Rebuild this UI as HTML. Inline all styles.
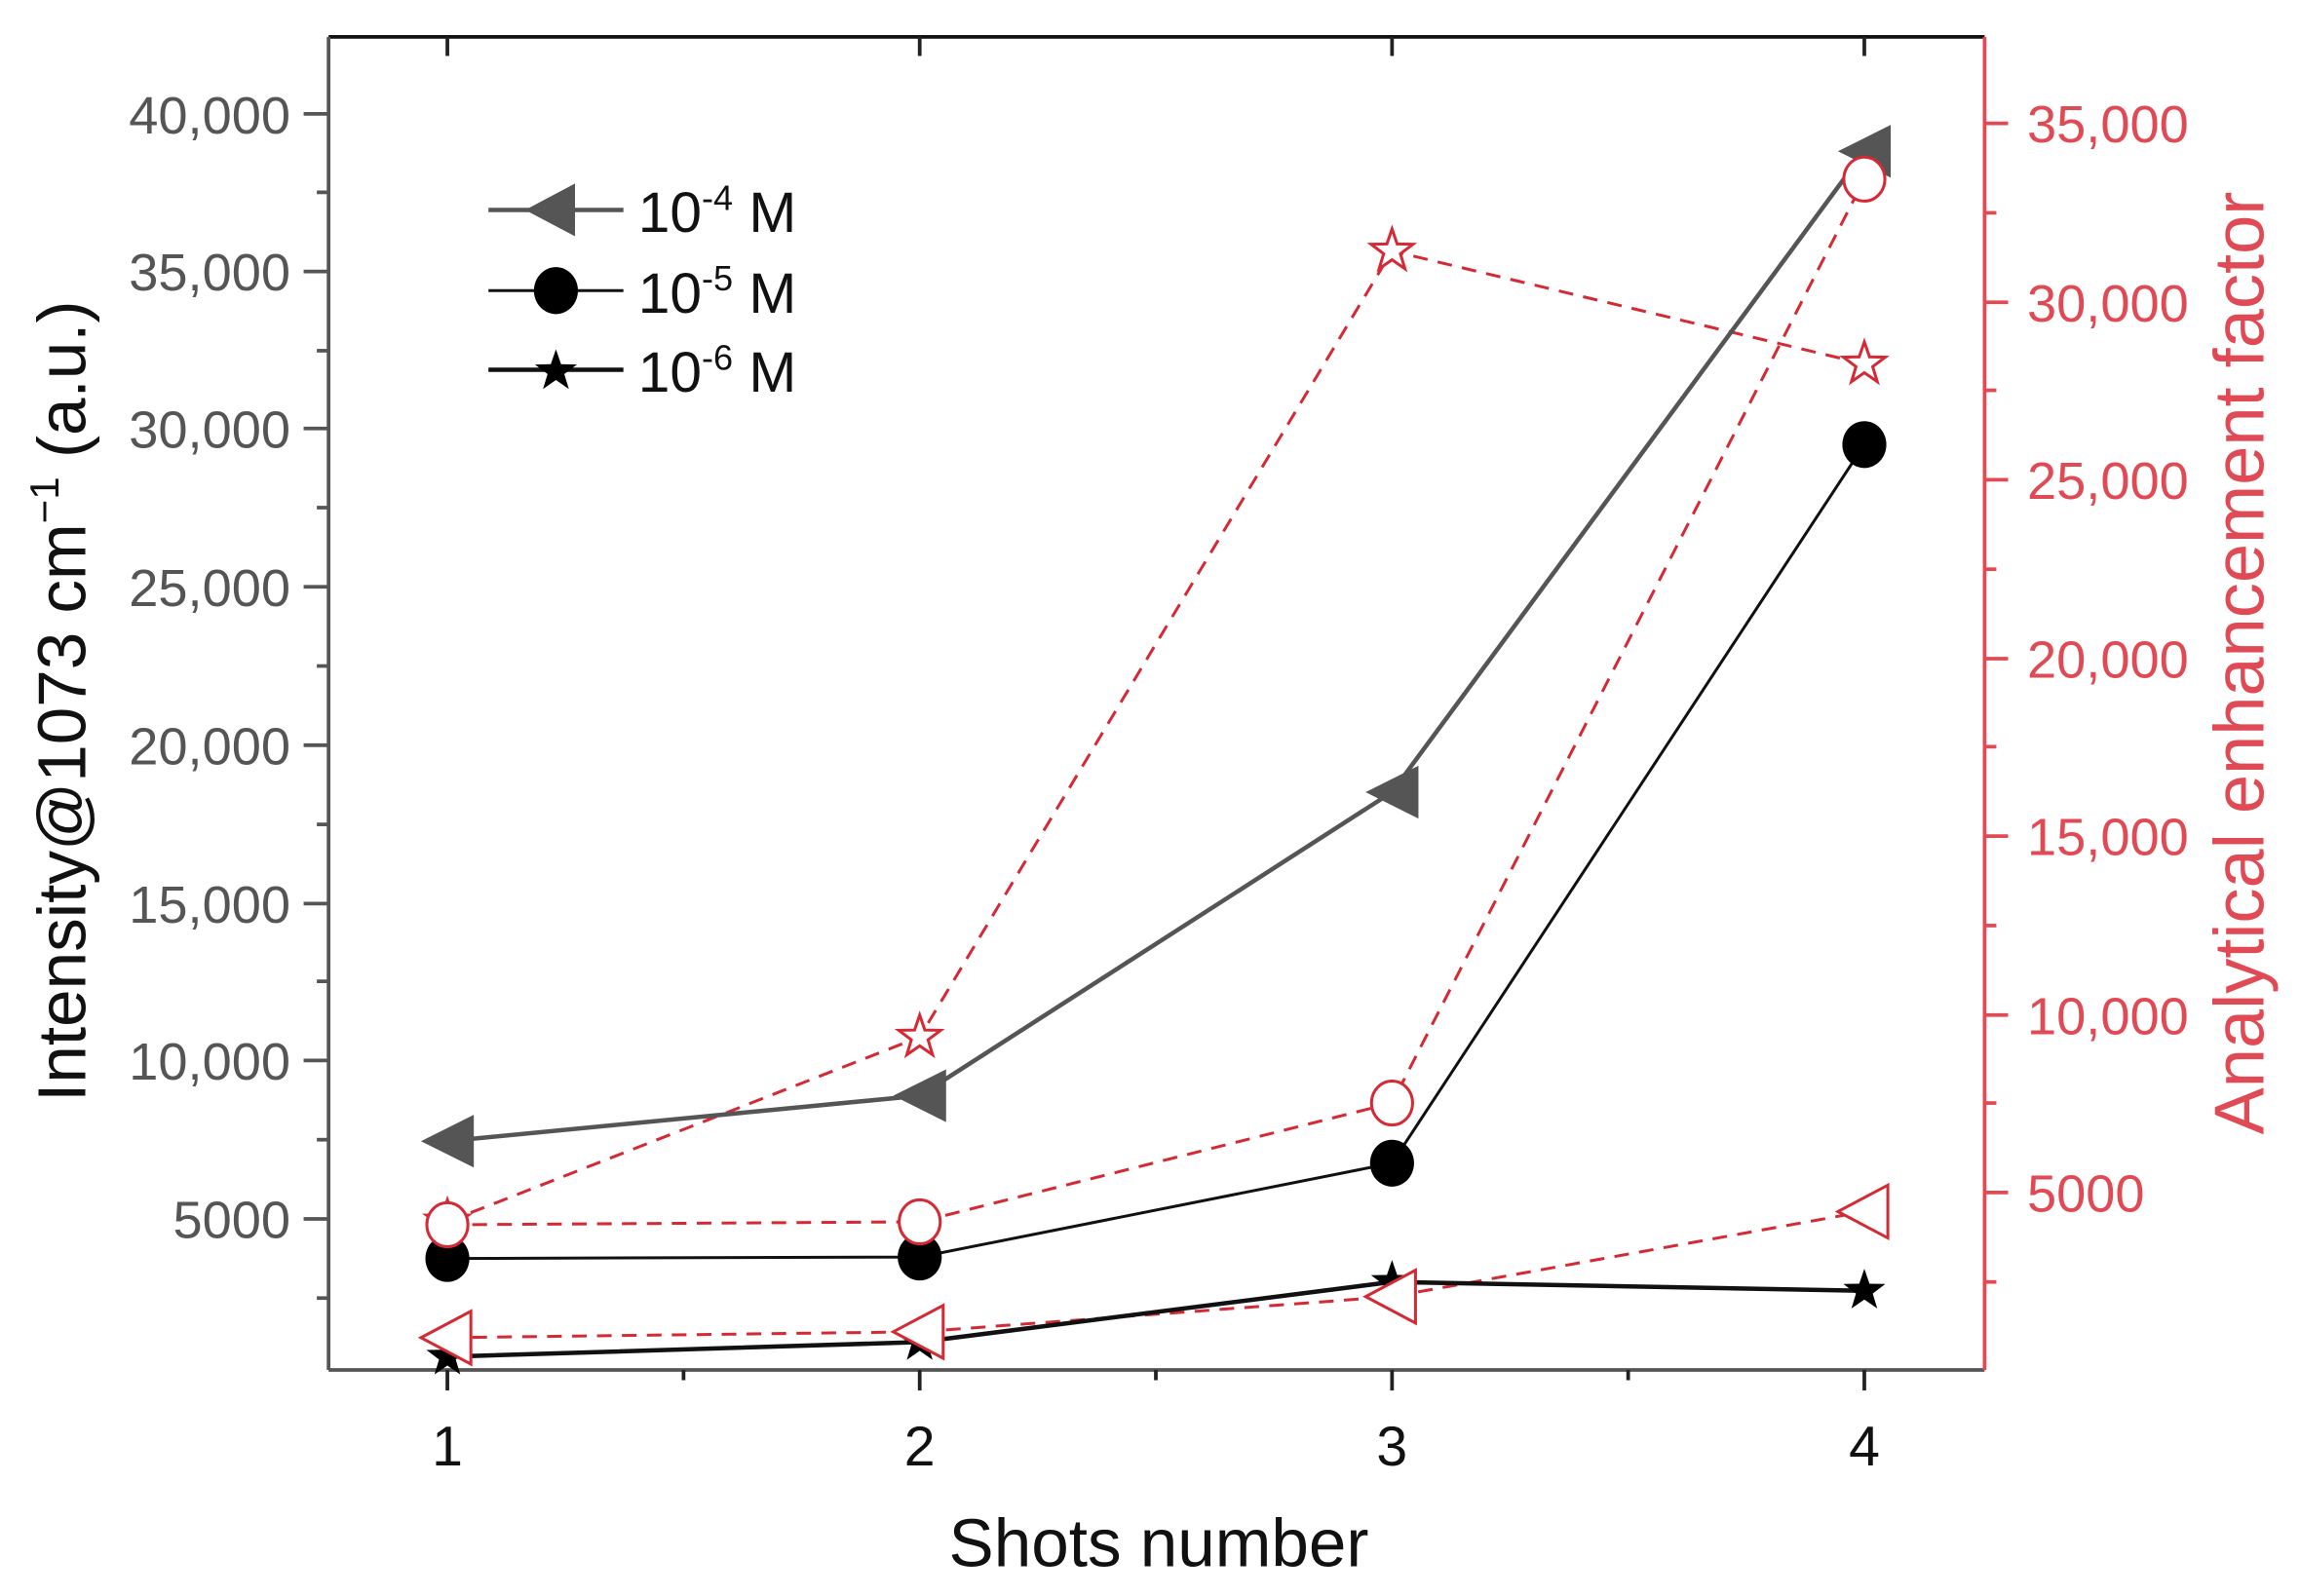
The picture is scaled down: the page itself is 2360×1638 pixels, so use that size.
<!DOCTYPE html>
<html><head><meta charset="utf-8"><style>html,body{margin:0;padding:0;background:#fff}svg{display:block}</style></head>
<body>
<svg width="2360" height="1638" viewBox="0 0 1568 1088" xmlns="http://www.w3.org/2000/svg" font-family="Liberation Sans, Arial, sans-serif">
<rect width="1568" height="1088" fill="#fff"/>
<defs>
<path id="star" d="M0,-15 L3.5,-4.8 L14.3,-4.6 L5.7,1.9 L8.8,12.1 L0,6 L-8.8,12.1 L-5.7,1.9 L-14.3,-4.6 L-3.5,-4.8 Z"/>
</defs>
<line x1="224" y1="25" x2="1353" y2="25" stroke="#111" stroke-width="2.5"/>
<line x1="224" y1="25" x2="224" y2="934" stroke="#555" stroke-width="2.5"/>
<line x1="224" y1="934" x2="1353" y2="934" stroke="#555" stroke-width="2.5"/>
<line x1="1353" y1="25" x2="1353" y2="934" stroke="#e04a55" stroke-width="2.5"/>
<g stroke="#222" stroke-width="2.5">
<line x1="305" y1="934" x2="305" y2="948"/><line x1="627" y1="934" x2="627" y2="948"/><line x1="949" y1="934" x2="949" y2="948"/><line x1="1271" y1="934" x2="1271" y2="948"/>
<line x1="466" y1="934" x2="466" y2="941"/><line x1="788" y1="934" x2="788" y2="941"/><line x1="1110" y1="934" x2="1110" y2="941"/>
<line x1="305" y1="25" x2="305" y2="38"/><line x1="627" y1="25" x2="627" y2="38"/><line x1="949" y1="25" x2="949" y2="38"/><line x1="1271" y1="25" x2="1271" y2="38"/>
</g>
<g font-size="38" fill="#111" text-anchor="middle">
<text x="305" y="999">1</text><text x="627" y="999">2</text><text x="949" y="999">3</text><text x="1271" y="999">4</text>
</g>
<text x="790" y="1068" font-size="46" text-anchor="middle" fill="#111">Shots number</text>
<g stroke="#555" stroke-width="2.5">
<line x1="207" y1="77.5" x2="224" y2="77.5"/><line x1="207" y1="185" x2="224" y2="185"/><line x1="207" y1="292" x2="224" y2="292"/><line x1="207" y1="400" x2="224" y2="400"/><line x1="207" y1="508" x2="224" y2="508"/><line x1="207" y1="616" x2="224" y2="616"/><line x1="207" y1="723" x2="224" y2="723"/><line x1="207" y1="831" x2="224" y2="831"/>
<line x1="216" y1="131" x2="224" y2="131"/><line x1="216" y1="239" x2="224" y2="239"/><line x1="216" y1="346" x2="224" y2="346"/><line x1="216" y1="454" x2="224" y2="454"/><line x1="216" y1="562" x2="224" y2="562"/><line x1="216" y1="669" x2="224" y2="669"/><line x1="216" y1="777" x2="224" y2="777"/><line x1="216" y1="885" x2="224" y2="885"/>
</g>
<g font-size="36" fill="#555" text-anchor="end">
<text x="198" y="91">40,000</text><text x="198" y="198">35,000</text><text x="198" y="305">30,000</text><text x="198" y="413">25,000</text><text x="198" y="521">20,000</text><text x="198" y="629">15,000</text><text x="198" y="736">10,000</text><text x="198" y="844">5000</text>
</g>
<text transform="translate(58,478) rotate(-90)" font-size="46" fill="#111" text-anchor="middle">Intensity@1073 cm<tspan font-size="28" dy="-18">−1</tspan><tspan dy="18"> (a.u.)</tspan></text>
<g stroke="#e04a55" stroke-width="2.5">
<line x1="1353" y1="84" x2="1369" y2="84"/><line x1="1353" y1="206" x2="1369" y2="206"/><line x1="1353" y1="327" x2="1369" y2="327"/><line x1="1353" y1="449" x2="1369" y2="449"/><line x1="1353" y1="570" x2="1369" y2="570"/><line x1="1353" y1="692" x2="1369" y2="692"/><line x1="1353" y1="813" x2="1369" y2="813"/>
<line x1="1353" y1="145" x2="1361" y2="145"/><line x1="1353" y1="266" x2="1361" y2="266"/><line x1="1353" y1="388" x2="1361" y2="388"/><line x1="1353" y1="509" x2="1361" y2="509"/><line x1="1353" y1="631" x2="1361" y2="631"/><line x1="1353" y1="752" x2="1361" y2="752"/><line x1="1353" y1="874" x2="1361" y2="874"/>
</g>
<g font-size="36" fill="#e04a55">
<text x="1382" y="97">35,000</text><text x="1382" y="219">30,000</text><text x="1382" y="340">25,000</text><text x="1382" y="462">20,000</text><text x="1382" y="583">15,000</text><text x="1382" y="705">10,000</text><text x="1382" y="826">5000</text>
</g>
<text transform="translate(1543,452) rotate(-90)" font-size="48" fill="#e04a55" text-anchor="middle">Analytical enhancement factor</text>
<g fill="none" stroke="#d42a35" stroke-width="2" stroke-dasharray="10,7">
<polyline points="305,833 627,707 949,171 1271,248"/>
<polyline points="305,835 627,833 949,752 1271,122"/>
<polyline points="305,912 627,908 949,884 1271,826"/>
</g>
<polyline points="305,778 627,747 949,540 1271,103" fill="none" stroke="#555" stroke-width="3"/>
<polyline points="305,858 627,857 949,793 1271,303" fill="none" stroke="#111" stroke-width="2"/>
<polyline points="305,925 627,915 949,874 1271,880" fill="none" stroke="#111" stroke-width="3"/>
<g fill="#555">
<polygon points="287,778 323,760 323,796"/><polygon points="609,747 645,729 645,765"/><polygon points="931,540 967,522 967,558"/><polygon points="1253,103 1289,85 1289,121"/>
</g>
<g fill="#000">
<ellipse cx="305" cy="858" rx="15" ry="16"/><ellipse cx="627" cy="857" rx="15" ry="16"/><ellipse cx="949" cy="793" rx="15" ry="16"/><ellipse cx="1271" cy="303" rx="15" ry="16"/>
<use href="#star" x="305" y="925"/><use href="#star" x="627" y="915"/><use href="#star" x="949" y="874"/><use href="#star" x="1271" y="880"/>
</g>
<g fill="#fff" stroke="#d42a35" stroke-width="2">
<use href="#star" x="305" y="833"/><use href="#star" x="627" y="707"/><use href="#star" x="949" y="171"/><use href="#star" x="1271" y="248"/>
<ellipse cx="305" cy="835" rx="14" ry="15"/><ellipse cx="627" cy="833" rx="14" ry="15"/><ellipse cx="949" cy="752" rx="14" ry="15"/><ellipse cx="1271" cy="122" rx="14" ry="15"/>
<polygon points="287,912 321,894 321,930"/><polygon points="609,908 643,890 643,926"/><polygon points="931,884 965,866 965,902"/><polygon points="1253,826 1287,808 1287,844"/>
</g>
<line x1="333" y1="143" x2="425" y2="143" stroke="#555" stroke-width="3"/>
<polygon points="358,143 392,125 392,161" fill="#555"/>
<line x1="333" y1="198" x2="425" y2="198" stroke="#111" stroke-width="2"/>
<ellipse cx="379" cy="198" rx="15" ry="16" fill="#000"/>
<line x1="333" y1="252" x2="425" y2="252" stroke="#111" stroke-width="3"/>
<use href="#star" x="379" y="253" fill="#000"/>
<g font-size="39" fill="#111">
<text x="435" y="158">10<tspan font-size="24" dy="-15">-4</tspan><tspan dy="15"> M</tspan></text>
<text x="435" y="213">10<tspan font-size="24" dy="-15">-5</tspan><tspan dy="15"> M</tspan></text>
<text x="435" y="267">10<tspan font-size="24" dy="-15">-6</tspan><tspan dy="15"> M</tspan></text>
</g>
</svg>
</body></html>
